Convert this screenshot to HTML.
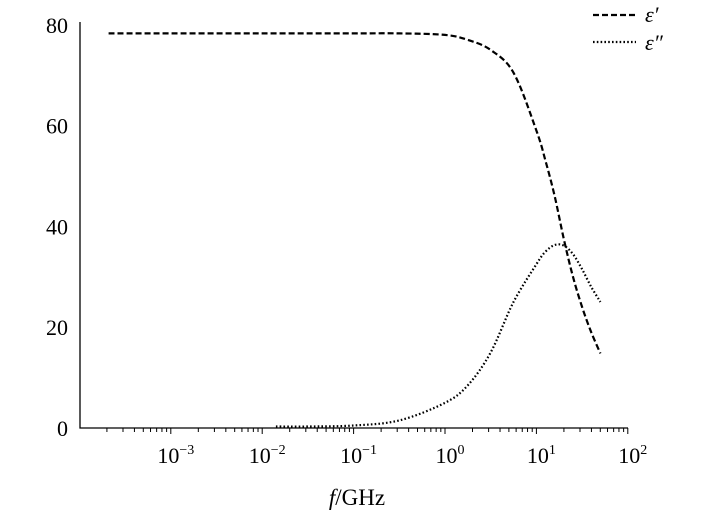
<!DOCTYPE html>
<html><head><meta charset="utf-8"><style>
body{margin:0;background:#fff}
svg{display:block;font-family:"Liberation Serif",serif}
</style></head><body>
<svg id="c" width="709" height="515"></svg>
<script>
const epsRealLogF=[-3.68,-3,-2,-1,-0.5,0,0.25,0.5,0.75,1,1.1,1.2,1.3,1.4,1.5,1.6,1.7];
const epsRealVals=[78.3,78.3,78.3,78.3,78.3,78.0,77,75,70.5,59,53,46,37.5,30,24,19,14.8];
const epsImagLogF=[-1.85,-1.5,-1,-0.5,0,0.25,0.5,0.75,1,1.1,1.2,1.3,1.4,1.5,1.6,1.7];
const epsImagVals=[0.3,0.3,0.5,1.5,5,8.5,15,25,32.5,35,36.3,36.2,34.5,31.5,28,25];
const yTicks=[0,20,40,60,80];
const xDecades=[-3,-2,-1,0,1,2];
const NS="http://www.w3.org/2000/svg";
const svg=document.getElementById('c');
const X=l=>445+l*91.4, Y=v=>428-v*5.04;
function mk(t,a,p){const e=document.createElementNS(NS,t);for(const k in a)e.setAttribute(k,a[k]);(p||svg).appendChild(e);return e;}
const ax=mk('path',{d:'M80,22V428H628',fill:'none',stroke:'#000','stroke-width':1.3});


yTicks.forEach(v=>{const t=mk('text',{x:68,y:Y(v)+8,'text-anchor':'end','font-size':22});t.textContent=v;

});
for(let d=-4;d<2;d++){for(let m=1;m<10;m++){const x=X(d+Math.log10(m));if(x<80)continue;
const tk=mk('line',{x1:x,x2:x,y1:428,y2:m==1?434:432,stroke:'#000','stroke-width':1});

}}
mk('line',{x1:X(2),x2:X(2),y1:428,y2:434,stroke:'#000'});
xDecades.forEach(d=>{const t=mk('text',{x:X(d)+5,y:463,'text-anchor':'middle','font-size':22});
t.innerHTML='10<tspan dy="-9" font-size="14">'+(d<0?'\u2212'+(-d):d)+'</tspan>';

});
const xt=mk('text',{x:357,y:505,'text-anchor':'middle','font-size':23});
xt.innerHTML='<tspan font-style="italic">f</tspan>/GHz';


function smooth(pts){let d='M'+pts[0][0].toFixed(1)+','+pts[0][1].toFixed(1);
for(let i=0;i<pts.length-1;i++){const p0=pts[i-1]||pts[i],p1=pts[i],p2=pts[i+1],p3=pts[i+2]||p2;
const c1=[p1[0]+(p2[0]-p0[0])/6,p1[1]+(p2[1]-p0[1])/6],c2=[p2[0]-(p3[0]-p1[0])/6,p2[1]-(p3[1]-p1[1])/6];
d+='C'+c1.map(v=>v.toFixed(1))+' '+c2.map(v=>v.toFixed(1))+' '+p2.map(v=>v.toFixed(1));}
return d;}
function line(lx,vs,dash,name){const pts=lx.map((l,i)=>[X(l),Y(vs[i])]);
const p=mk('path',{d:smooth(pts),fill:'none',stroke:'#000','stroke-width':2.2,'stroke-dasharray':dash=='d'?'6,3':'1.6,2.2'});

}
line(epsRealLogF,epsRealVals,'d','eps-real-line');
line(epsImagLogF,epsImagVals,'o','eps-imag-line');
const g=mk('g',{});


mk('line',{x1:593,x2:636,y1:15,y2:15,stroke:'#000','stroke-width':2.2,'stroke-dasharray':'6,3'},g);
mk('line',{x1:593,x2:636,y1:42,y2:42,stroke:'#000','stroke-width':2.2,'stroke-dasharray':'1.6,2.2'},g);
const l1=mk('text',{x:645,y:22,'font-size':22,'font-style':'italic'},g);l1.textContent='\u03b5\u2032';


const l2=mk('text',{x:645,y:50,'font-size':22,'font-style':'italic'},g);l2.textContent='\u03b5\u2033';


</script>
</body></html>
